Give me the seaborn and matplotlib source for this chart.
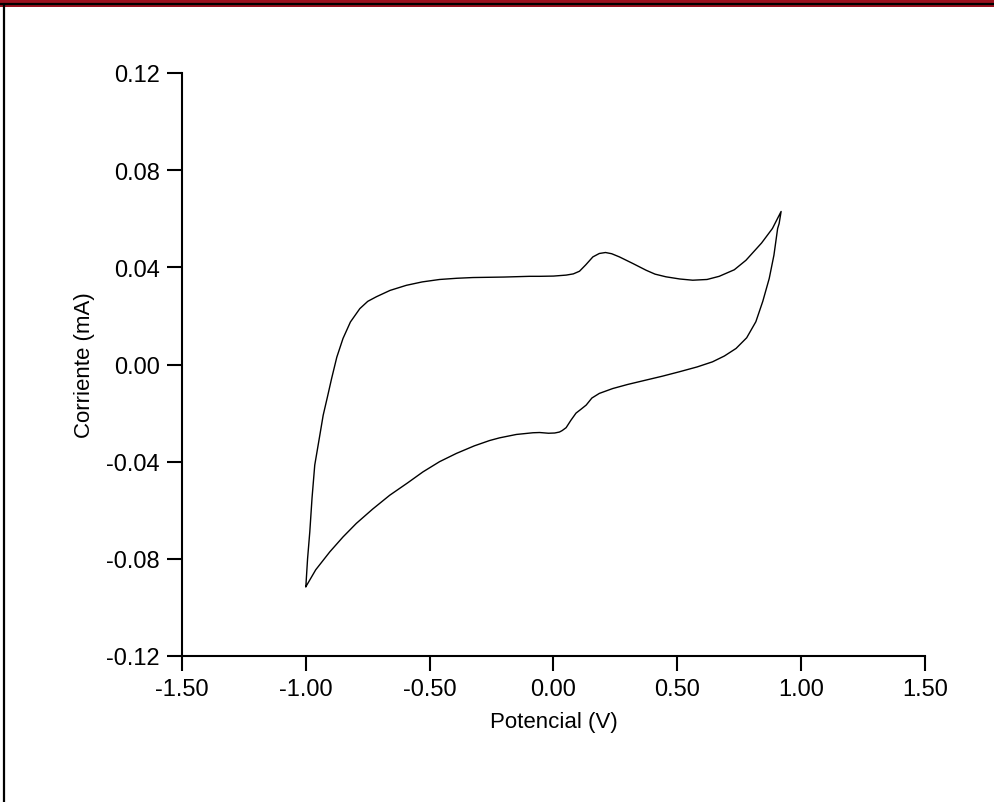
import matplotlib
matplotlib.use("Agg")
import matplotlib.pyplot as plt
from matplotlib.patches import Rectangle
from matplotlib.lines import Line2D
import pandas as pd
import seaborn as sns

# Cyclic voltammogram: forward (anodic) sweep from -1.0 V to 0.92 V
forward_potential = [-1.000, -0.993, -0.984, -0.975, -0.964, -0.945, -0.930, -0.912,
                     -0.896, -0.875, -0.850, -0.820, -0.782, -0.750, -0.715, -0.660,
                     -0.594, -0.530, -0.460, -0.390, -0.325, -0.200, -0.097, -0.056,
                     0.000, 0.051, 0.080, 0.105, 0.130, 0.159, 0.185, 0.210, 0.235,
                     0.266, 0.320, 0.374, 0.410, 0.454, 0.510, 0.562, 0.620, 0.669,
                     0.730, 0.777, 0.840, 0.884, 0.919]
forward_current = [-0.0915, -0.0800, -0.0689, -0.0550, -0.0414, -0.0300, -0.0209, -0.0130,
                   -0.0058, 0.0030, 0.0107, 0.0175, 0.0230, 0.0260, 0.0279, 0.0305,
                   0.0326, 0.0340, 0.0350, 0.0355, 0.0358, 0.0360, 0.0363, 0.0363,
                   0.0364, 0.0368, 0.0373, 0.0384, 0.0410, 0.0443, 0.0457, 0.0461, 0.0456,
                   0.0443, 0.0416, 0.0388, 0.0372, 0.0361, 0.0352, 0.0347, 0.0350, 0.0363,
                   0.0390, 0.0429, 0.0500, 0.0560, 0.0630]

# Reverse (cathodic) sweep from 0.91 V back to -1.0 V
reverse_potential = [0.911, 0.905, 0.890, 0.871, 0.845, 0.817, 0.780, 0.737, 0.690,
                     0.642, 0.580, 0.508, 0.440, 0.374, 0.300, 0.239, 0.185, 0.155,
                     0.132, 0.110, 0.091, 0.070, 0.051, 0.035, 0.024, 0.005, -0.020,
                     -0.056, -0.083, -0.150, -0.218, -0.258, -0.320, -0.392, -0.460,
                     -0.527, -0.590, -0.661, -0.730, -0.796, -0.850, -0.903, -0.960,
                     -1.000]
reverse_current = [0.0580, 0.0560, 0.0450, 0.0354, 0.0260, 0.0176, 0.0110, 0.0066, 0.0035,
                   0.0011, -0.0010, -0.0030, -0.0048, -0.0064, -0.0082, -0.0099, -0.0119, -0.0138,
                   -0.0167, -0.0185, -0.0200, -0.0230, -0.0260, -0.0272, -0.0278, -0.0282, -0.0283,
                   -0.0280, -0.0281, -0.0288, -0.0302, -0.0313, -0.0335, -0.0366, -0.0400,
                   -0.0442, -0.0488, -0.0538, -0.0595, -0.0654, -0.0710, -0.0771, -0.0845,
                   -0.0915]

x_ticks = [-1.5, -1.0, -0.5, 0.0, 0.5, 1.0, 1.5]
y_ticks = [-0.12, -0.08, -0.04, 0.0, 0.04, 0.08, 0.12]

df = pd.DataFrame({
    "Potencial": forward_potential + reverse_potential,
    "Corriente": forward_current + reverse_current,
})

sns.set_theme(style="ticks")
plt.rcParams["font.family"] = ["Liberation Sans", "DejaVu Sans"]

W, H = 995, 803
fig = plt.figure(figsize=(W / 100, H / 100), dpi=100)
fig.patch.set_facecolor("white")

ax = fig.add_axes([182 / W, (H - 657) / H, (925 - 182) / W, (657 - 74) / H])
sns.lineplot(data=df, x="Potencial", y="Corriente", sort=False, estimator=None,
             color="black", linewidth=1.0, ax=ax)

ax.set_xlim(-1.5, 1.5)
ax.set_ylim(-0.12, 0.12)
ax.set_xticks(x_ticks)
ax.set_yticks(y_ticks)
ax.set_xticklabels([f"{v:.2f}" for v in x_ticks])
ax.set_yticklabels([f"{v:.2f}" for v in y_ticks])
ax.tick_params(axis="both", direction="out", length=11, width=1.5, colors="black",
               labelsize=17, pad=5)
for side in ("top", "right"):
    ax.spines[side].set_visible(False)
for side in ("left", "bottom"):
    ax.spines[side].set_linewidth(1.5)
    ax.spines[side].set_color("black")
ax.set_facecolor("none")

ax.set_xlabel("Potencial (V)", fontsize=16, labelpad=8, color="black")
ax.set_ylabel("Corriente (mA)", fontsize=16, labelpad=8, color="black")

# Page frame: red header band with a black rule, and a black left margin line
fig.patches.append(Rectangle((0, 1 - 8 / H), 1, 8 / H, transform=fig.transFigure,
                             facecolor="#9b111e", edgecolor="none", zorder=0))
fig.lines.append(Line2D([0, 1], [1 - 5 / H, 1 - 5 / H], transform=fig.transFigure,
                        color="black", linewidth=1.6))
fig.lines.append(Line2D([4 / W, 4 / W], [0, 1 - 5 / H], transform=fig.transFigure,
                        color="black", linewidth=1.6))

fig.savefig("out.png", dpi=100)
